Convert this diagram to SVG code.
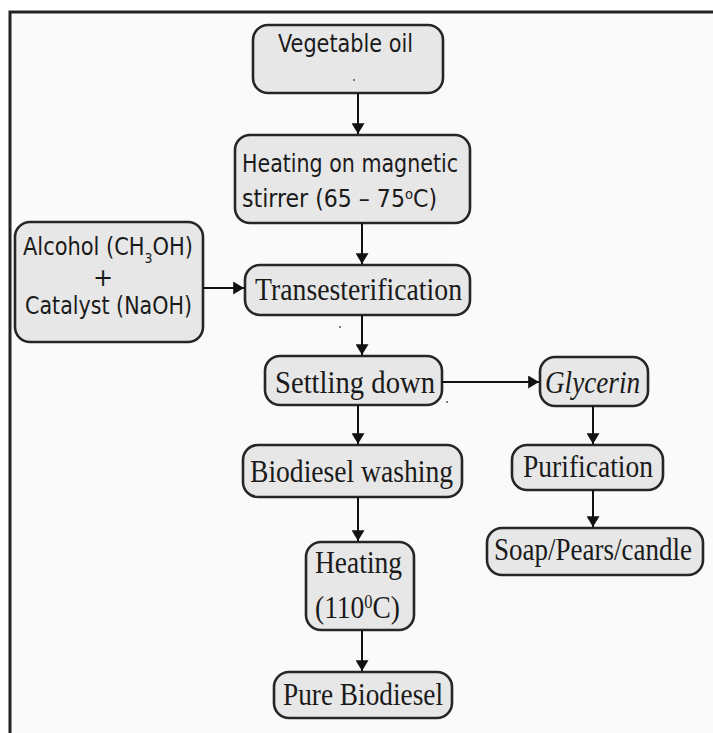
<svg xmlns="http://www.w3.org/2000/svg" width="713" height="733" viewBox="0 0 713 733">
<defs>
<marker id="ah" viewBox="0 0 10 12" refX="10" refY="6" markerWidth="11" markerHeight="13" markerUnits="userSpaceOnUse" orient="auto">
<path d="M0,0 L10,6 L0,12 z" fill="#111"/>
</marker>
</defs>
<style>
.box{fill:#e7e7e7;stroke:#262626;stroke-width:2.6}
.sans{font-family:"DejaVu Sans","Verdana",sans-serif;font-size:24px;fill:#1a1a1a}
.serif{font-family:"Liberation Serif","Times New Roman",serif;font-size:32px;fill:#1a1a1a}
.sup{font-size:60%;baseline-shift:super}
.sub{font-size:60%;baseline-shift:sub}
.conn line{stroke:#111;stroke-width:2;marker-end:url(#ah)}
</style>
<rect x="0" y="0" width="713" height="733" fill="#ffffff"/>
<rect x="10" y="12" width="720" height="740" fill="#fafafa" stroke="#222" stroke-width="3"/>

<g id="vegetable-oil">
<rect class="box" x="253" y="25" width="190" height="68" rx="15"/>
<text class="sans" x="278" y="52" textLength="135" lengthAdjust="spacingAndGlyphs">Vegetable oil</text>
<circle cx="354" cy="80" r="1" fill="#555"/>
</g>
<g id="heating-stirrer">
<rect class="box" x="235" y="135" width="235" height="88" rx="15"/>
<text class="sans" x="242" y="172" textLength="216" lengthAdjust="spacingAndGlyphs">Heating on magnetic</text>
<text class="sans" x="242" y="207" textLength="195" lengthAdjust="spacingAndGlyphs">stirrer   (65 – 75<tspan class="sup">o</tspan>C)</text>
</g>
<g id="alcohol-catalyst">
<rect class="box" x="15" y="222" width="188" height="120" rx="15"/>
<text class="sans" x="23" y="255" textLength="170" lengthAdjust="spacingAndGlyphs">Alcohol (CH<tspan class="sub">3</tspan>OH)</text>
<text class="sans" x="103" y="286" text-anchor="middle">+</text>
<text class="sans" x="25" y="314" textLength="167" lengthAdjust="spacingAndGlyphs">Catalyst (NaOH)</text>
</g>
<g id="transesterification">
<rect class="box" x="245" y="265" width="225" height="50" rx="15"/>
<text class="serif" x="255" y="300" textLength="207" lengthAdjust="spacingAndGlyphs">Transesterification</text>
</g>
<circle cx="340" cy="327" r="1" fill="#555"/>
<g id="settling-down">
<rect class="box" x="265" y="356" width="177" height="49" rx="15"/>
<text class="serif" x="275" y="393" textLength="160" lengthAdjust="spacingAndGlyphs">Settling down</text>
</g>
<circle cx="447" cy="402" r="1" fill="#555"/>
<g id="glycerin">
<rect class="box" x="540" y="357" width="108" height="49" rx="15"/>
<text class="serif" x="545" y="393" textLength="95" lengthAdjust="spacingAndGlyphs" font-style="italic">Glycerin</text>
</g>
<g id="biodiesel-washing">
<rect class="box" x="243" y="445" width="219" height="52" rx="15"/>
<text class="serif" x="250" y="482" textLength="203" lengthAdjust="spacingAndGlyphs">Biodiesel washing</text>
</g>
<g id="purification">
<rect class="box" x="512" y="445" width="151" height="45" rx="15"/>
<text class="serif" x="523" y="477" font-size="30" textLength="130" lengthAdjust="spacingAndGlyphs">Purification</text>
</g>
<g id="soap">
<rect class="box" x="487" y="528" width="216" height="47" rx="15"/>
<text class="serif" x="494" y="560" font-size="29" textLength="198" lengthAdjust="spacingAndGlyphs">Soap/Pears/candle</text>
</g>
<g id="heating-110">
<rect class="box" x="306" y="542" width="108" height="88" rx="15"/>
<text class="serif" x="315" y="573" textLength="87" lengthAdjust="spacingAndGlyphs">Heating</text>
<text class="serif" x="315" y="618" textLength="85" lengthAdjust="spacingAndGlyphs">(110<tspan class="sup">0</tspan>C)</text>
</g>
<g id="pure-biodiesel">
<rect class="box" x="274" y="672" width="178" height="46" rx="15"/>
<text class="serif" x="283" y="705" font-size="30" textLength="160" lengthAdjust="spacingAndGlyphs">Pure Biodiesel</text>
</g>

<g class="conn" id="connectors">
<line x1="358" y1="93" x2="358" y2="134"/>
<line x1="362" y1="223" x2="362" y2="264"/>
<line x1="203" y1="288" x2="244" y2="288"/>
<line x1="362" y1="315" x2="362" y2="355"/>
<line x1="442" y1="382" x2="539" y2="382"/>
<line x1="358" y1="405" x2="358" y2="444"/>
<line x1="593" y1="406" x2="593" y2="444"/>
<line x1="593" y1="490" x2="593" y2="527"/>
<line x1="358" y1="497" x2="358" y2="541"/>
<line x1="362" y1="630" x2="362" y2="671"/>
</g>
</svg>
